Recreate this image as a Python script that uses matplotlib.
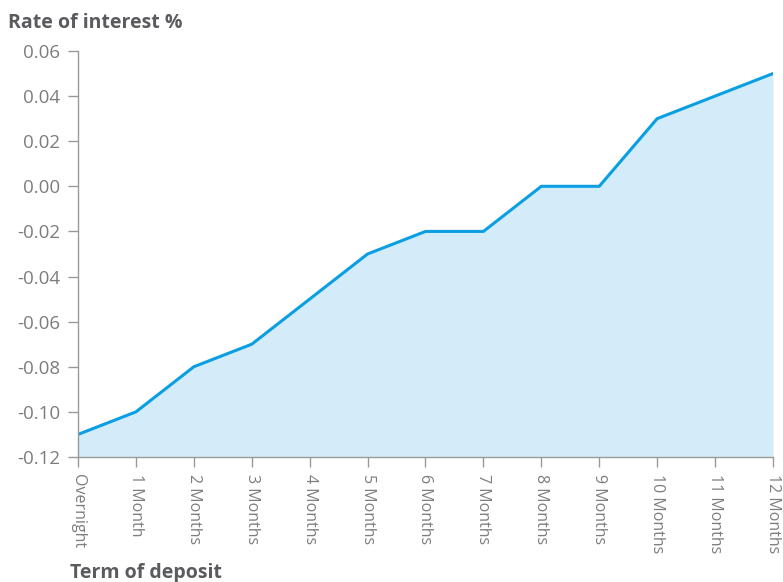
import matplotlib
matplotlib.use("Agg")
import matplotlib.pyplot as plt

terms = ["Overnight", "1 Month", "2 Months", "3 Months", "4 Months", "5 Months",
         "6 Months", "7 Months", "8 Months", "9 Months", "10 Months", "11 Months", "12 Months"]
rates = [-0.11, -0.10, -0.08, -0.07, -0.05, -0.03, -0.02, -0.02, 0.00, 0.00, 0.03, 0.04, 0.05]
y_ticks = [-0.12, -0.10, -0.08, -0.06, -0.04, -0.02, 0.00, 0.02, 0.04, 0.06]

line_col = "#0a9fe3"
fill_col = "#d4ebfa"
axis_col = "#9a9a9a"
text_col = "#7d7d7d"

plt.rcParams['font.family'] = ['Open Sans', 'DejaVu Sans']

fig = plt.figure(figsize=(7.83, 5.82), dpi=100)
ax = fig.add_axes([0.0996, 0.2148, 0.8876, 0.6976])

x = list(range(len(terms)))
ax.fill_between(x, rates, -0.12, color=fill_col, linewidth=0)
ax.plot(x, rates, color=line_col, linewidth=2.2)

ax.set_xlim(0, len(terms) - 1)
ax.set_ylim(-0.12, 0.06)
ax.set_yticks(y_ticks)
ax.set_yticklabels(["%.2f" % v for v in y_ticks], fontsize=13.5)
ax.set_xticks(x)
ax.set_xticklabels(terms, rotation=270, fontsize=11.5, va='top', ha='center')

for s in ["top", "right"]:
    ax.spines[s].set_visible(False)
for s in ["left", "bottom"]:
    ax.spines[s].set_color(axis_col)
    ax.spines[s].set_linewidth(1)
ax.tick_params(axis='both', color=axis_col, labelcolor=text_col, length=7, width=1)
ax.tick_params(axis='y', pad=6)
ax.tick_params(axis='x', pad=5)

fig.text(0.010, 0.960, "Rate of interest %", fontsize=14, fontweight='bold', color="#5a5a5f",
         va='center', ha='left')
fig.text(0.089, 0.015, "Term of deposit", fontsize=14, fontweight='bold', color="#5a5a5f",
         va='center', ha='left')

fig.savefig("out.png", dpi=100)
